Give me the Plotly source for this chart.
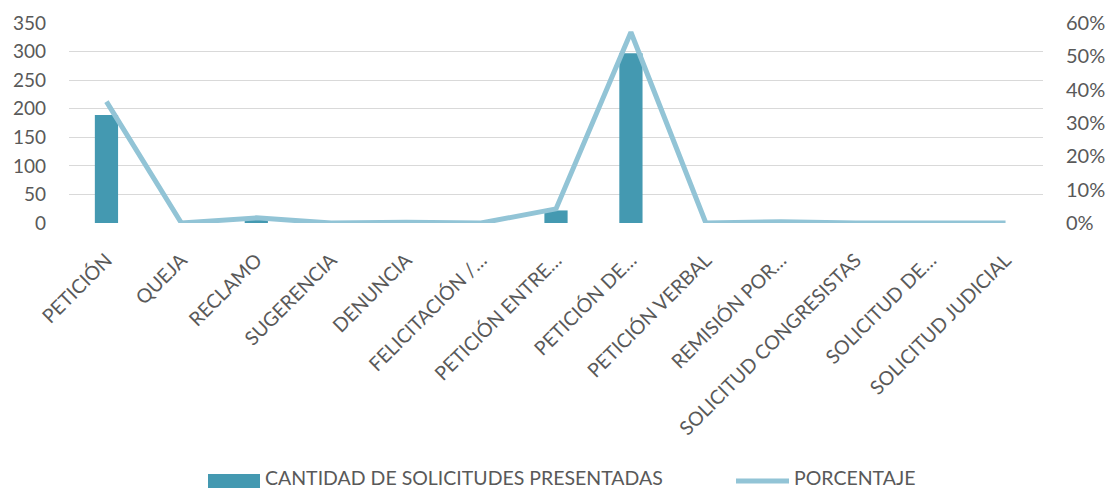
import plotly.graph_objects as go

categorias = [
    "PETICIÓN", "QUEJA", "RECLAMO", "SUGERENCIA", "DENUNCIA",
    "FELICITACIÓN /…", "PETICIÓN ENTRE…", "PETICIÓN DE…", "PETICIÓN VERBAL",
    "REMISIÓN POR…", "SOLICITUD CONGRESISTAS", "SOLICITUD DE…", "SOLICITUD JUDICIAL",
]
cantidad = [189, 0, 8, 0, 1, 0, 22, 297, 0, 2, 0, 0, 0]
porcentaje = [0.3642, 0.0, 0.0154, 0.0, 0.0019, 0.0, 0.0424, 0.5723, 0.0, 0.0039, 0.0, 0.0, 0.0]

ticks_izq = [0, 50, 100, 150, 200, 250, 300, 350]
ticks_der = [0, 0.1, 0.2, 0.3, 0.4, 0.5, 0.6]

NOMBRE_BARRAS = "CANTIDAD DE SOLICITUDES PRESENTADAS"
NOMBRE_LINEA = "PORCENTAJE"

COLOR_BARRA = "#4499b1"
COLOR_LINEA = "#92c4d6"
TEXTO = "#595959"
FUENTE = "Lato, 'Open Sans', sans-serif"

W, H = 1111, 490
ML, MR, MT, MB = 69, 68, 23, 267
PW, PH = W - ML - MR, H - MT - MB


def px(x):
    return (x - ML) / PW


def py(y):
    return (H - MB - y) / PH


fig = go.Figure()
fig.add_trace(go.Bar(
    x=categorias, y=cantidad, name=NOMBRE_BARRAS,
    marker=dict(color=COLOR_BARRA, line=dict(width=0)), width=0.31, yaxis="y",
    showlegend=False,
))
fig.add_trace(go.Scatter(
    x=categorias, y=porcentaje, name=NOMBRE_LINEA, mode="lines",
    line=dict(color=COLOR_LINEA, width=5), yaxis="y2", showlegend=False,
))

# leyenda inferior dibujada a mano
fig.add_shape(type="rect", xref="paper", yref="paper",
              x0=px(208), x1=px(260), y0=py(488), y1=py(474),
              fillcolor=COLOR_BARRA, line=dict(width=0))
fig.add_shape(type="line", xref="paper", yref="paper",
              x0=px(736), x1=px(789), y0=py(481), y1=py(481),
              line=dict(color=COLOR_LINEA, width=5))
fig.add_annotation(xref="paper", yref="paper", x=px(264), y=py(477),
                   text=NOMBRE_BARRAS, showarrow=False, xanchor="left", yanchor="middle",
                   font=dict(family=FUENTE, size=19.5, color=TEXTO), borderpad=0)
fig.add_annotation(xref="paper", yref="paper", x=px(793), y=py(477),
                   text=NOMBRE_LINEA, showarrow=False, xanchor="left", yanchor="middle",
                   font=dict(family=FUENTE, size=19.5, color=TEXTO), borderpad=0)

fig.update_layout(
    width=W, height=H,
    margin=dict(l=ML, r=MR, t=MT, b=MB, autoexpand=False),
    paper_bgcolor="white", plot_bgcolor="white",
    font=dict(family=FUENTE, color=TEXTO, size=18),
    showlegend=False,
    xaxis=dict(
        tickangle=-45, tickfont=dict(size=19.5, color=TEXTO), automargin=False,
        showgrid=False, showline=False, ticks="", ticklabelstandoff=21,
    ),
    yaxis=dict(
        range=[0, 350], tickvals=ticks_izq, showgrid=True, gridcolor="#d9d9d9",
        gridwidth=1.3, zeroline=False, showline=False, ticks="",
        tickfont=dict(size=19, color=TEXTO), automargin=False, ticklabelstandoff=22,
    ),
    yaxis2=dict(
        range=[0, 0.6], tickvals=ticks_der, tickformat=".0%", overlaying="y",
        side="right", showgrid=False, zeroline=False, showline=False, ticks="",
        tickfont=dict(size=20, color=TEXTO), automargin=False, ticklabelstandoff=22,
    ),
)

fig.write_html("out.html")
